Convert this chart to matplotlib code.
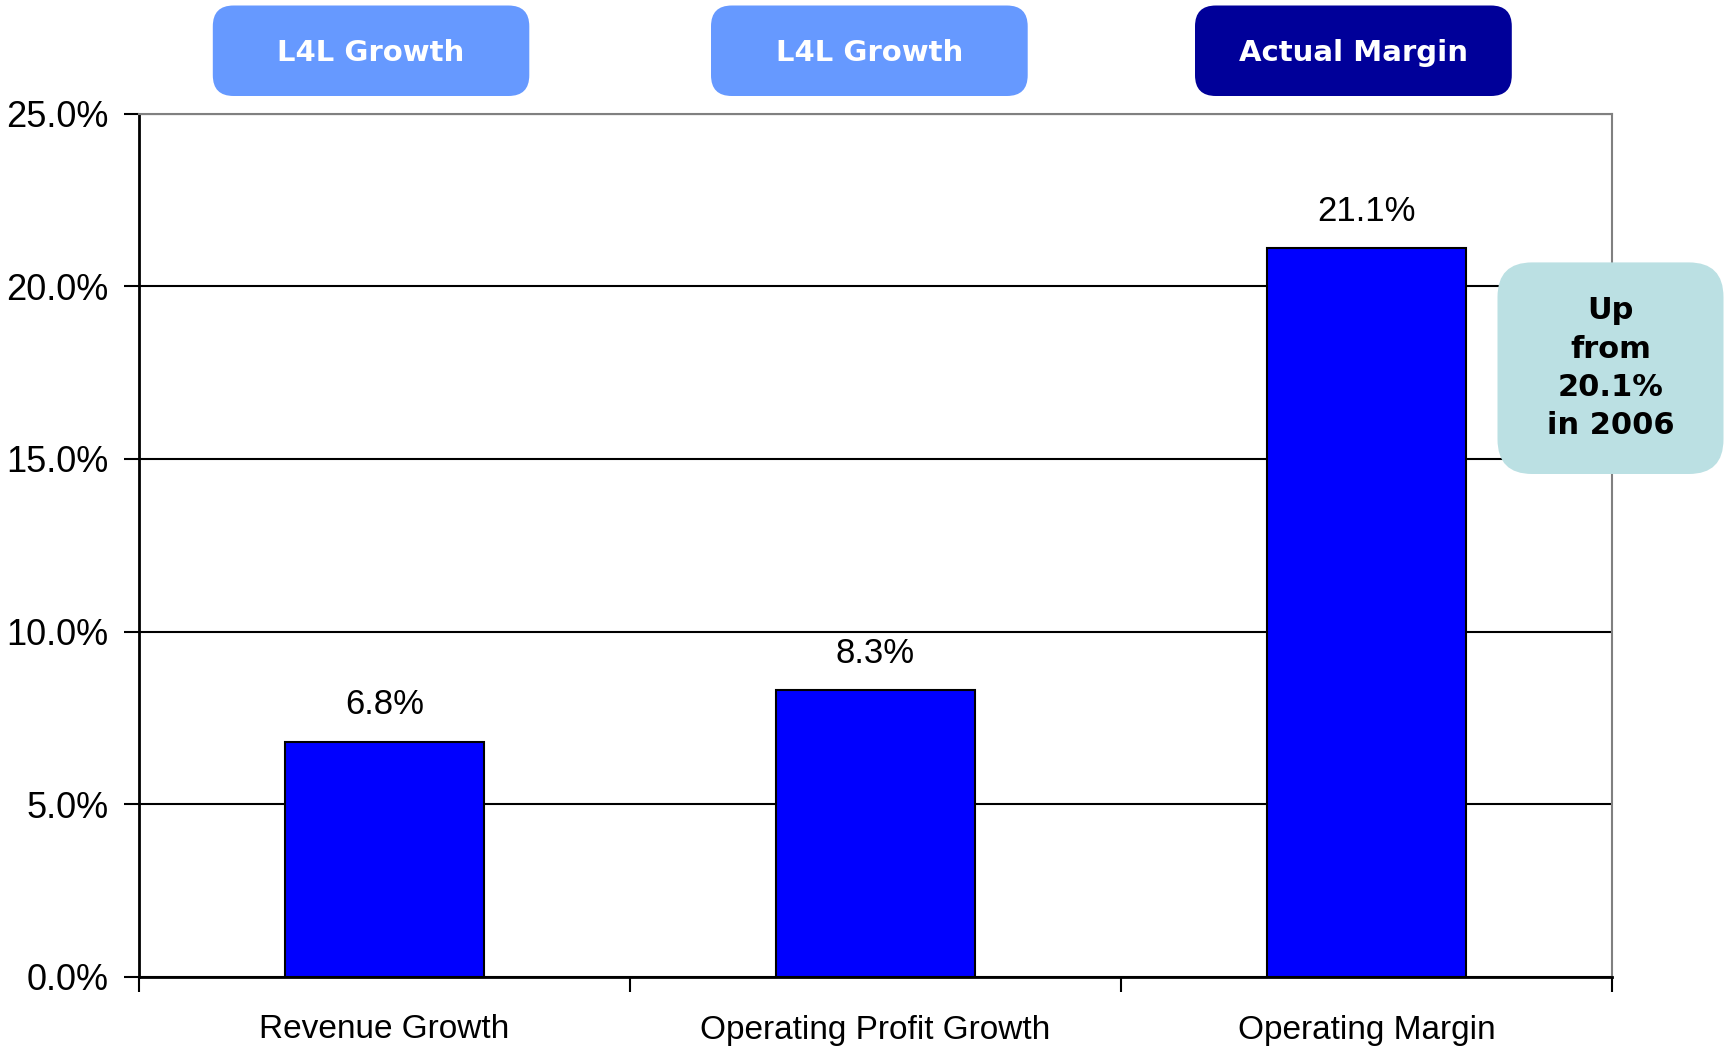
import matplotlib.pyplot as plt
from matplotlib.patches import FancyBboxPatch
from matplotlib.ticker import FuncFormatter

# data
categories = ["Revenue Growth", "Operating Profit Growth", "Operating Margin"]
values = [6.8, 8.3, 21.1]
badge_labels = ["L4L Growth", "L4L Growth", "Actual Margin"]
badge_colors = ["#6699FF", "#6699FF", "#000099"]
note_text = "Up\nfrom\n20.1%\nin 2006"

W, H = 1729, 1049
fig = plt.figure(figsize=(W / 100, H / 100), dpi=100)
ax = fig.add_axes([139 / W, 1 - 977 / H, (1612 - 139) / W, (977 - 113.6) / H])

x = list(range(len(categories)))
ax.bar(x, values, width=0.404, color="#0000FF", edgecolor="black", linewidth=1.5, zorder=3)
for xi, v in zip(x, values):
    ax.text(xi, v + 0.6, f"{v:.1f}%", ha="center", va="bottom", fontsize=25,
            family="Liberation Sans", zorder=4)

ax.set_xlim(-0.5, 2.5)
ax.set_ylim(0, 25)
ax.set_yticks([0, 5, 10, 15, 20, 25])
ax.yaxis.set_major_formatter(FuncFormatter(lambda v, p: f"{v:.1f}%"))
ax.set_xticks([-0.5, 0.5, 1.5, 2.5])
ax.set_xticklabels([])
ax.set_xticks(x, minor=True)
ax.set_xticklabels(categories, minor=True)
ax.tick_params(axis="x", which="minor", length=0, pad=27, labelsize=24)
ax.tick_params(axis="x", which="major", length=11, width=1.5, direction="out")
ax.tick_params(axis="y", length=11, width=1.5, direction="out", labelsize=26, pad=11)
for lab in ax.get_xticklabels(minor=True) + ax.get_yticklabels():
    lab.set_family("Liberation Sans")

ax.yaxis.grid(True, color="black", linewidth=1.5, zorder=0)
ax.set_axisbelow(True)
for s in ["left", "bottom"]:
    ax.spines[s].set_linewidth(2)
    ax.spines[s].set_color("black")
for s in ["top", "right"]:
    ax.spines[s].set_linewidth(1.5)
    ax.spines[s].set_color("#808080")

# badges above the bars
badge_x = [(212.8, 529.3), (711, 1027.7), (1195, 1511.8)]
for (x0, x1), lab, col in zip(badge_x, badge_labels, badge_colors):
    y0, y1 = 5.5, 96
    box = FancyBboxPatch((x0 / W, 1 - y1 / H), (x1 - x0) / W, (y1 - y0) / H,
                         boxstyle="round,pad=0,rounding_size=0.012",
                         transform=fig.transFigure, facecolor=col, edgecolor="none",
                         mutation_aspect=W / H)
    fig.patches.append(box)
    fig.text((x0 + x1) / 2 / W, 1 - (y0 + y1) / 2 / H - 0.002, lab, ha="center", va="center",
             color="white", fontsize=21, fontweight="bold", family="DejaVu Sans")

# side note
nx0, nx1, ny0, ny1 = 1497.5, 1723.5, 262.4, 474
note = FancyBboxPatch((nx0 / W, 1 - ny1 / H), (nx1 - nx0) / W, (ny1 - ny0) / H,
                      boxstyle="round,pad=0,rounding_size=0.02",
                      transform=fig.transFigure, facecolor="#BBE0E3", edgecolor="none",
                      mutation_aspect=W / H, zorder=5)
fig.patches.append(note)
fig.text((nx0 + nx1) / 2 / W, 1 - (ny0 + ny1) / 2 / H, note_text, ha="center", va="center",
         fontsize=22, fontweight="bold", family="DejaVu Sans", linespacing=1.4, zorder=6)

fig.savefig("out.png", dpi=100)
